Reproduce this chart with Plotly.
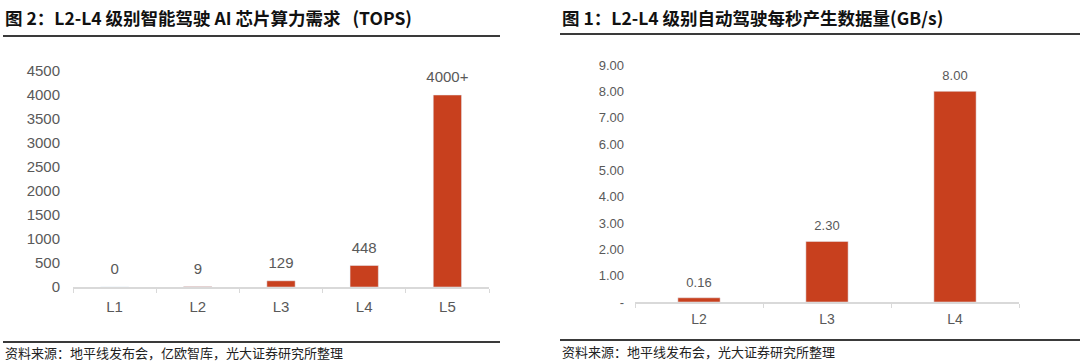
import plotly.graph_objects as go

# Left chart data
left_categories = ["L1", "L2", "L3", "L4", "L5"]
left_values = [0, 9, 129, 448, 4000]
left_labels = ["0", "9", "129", "448", "4000+"]
left_tickvals = [0, 500, 1000, 1500, 2000, 2500, 3000, 3500, 4000, 4500]
left_ticktext = ["0", "500", "1000", "1500", "2000", "2500", "3000", "3500", "4000", "4500"]

# Right chart data
right_categories = ["L2", "L3", "L4"]
right_values = [0.16, 2.30, 8.00]
right_labels = ["0.16", "2.30", "8.00"]
right_tickvals = [0, 1, 2, 3, 4, 5, 6, 7, 8, 9]
right_ticktext = ["-", "1.00", "2.00", "3.00", "4.00", "5.00", "6.00", "7.00", "8.00", "9.00"]

left_title = "图 2：L2-L4 级别智能驾驶 AI 芯片算力需求&nbsp;&nbsp;&nbsp;(TOPS)"
right_title = "图 1：L2-L4 级别自动驾驶每秒产生数据量(GB/s)"
left_source = "资料来源：地平线发布会，亿欧智库，光大证券研究所整理"
right_source = "资料来源：地平线发布会，光大证券研究所整理"

W, H = 1080, 363
BAR = "#C8401E"
GRAY = "#595959"
NUM_FONT = "Liberation Sans, Arial, sans-serif"
CJK_FONT = "Noto Sans CJK SC, sans-serif"

def px_x(x):
    return x / W

def px_y(y):
    return (H - y) / H

fig = go.Figure()
fig.add_trace(go.Bar(
    x=left_categories, y=left_values,
    marker=dict(color=BAR), xaxis="x", yaxis="y", width=0.34, hoverinfo="skip"))
fig.add_trace(go.Scatter(
    x=left_categories, y=left_values, text=left_labels, mode="markers+text",
    marker=dict(size=13, opacity=0), textposition="top center", cliponaxis=False,
    textfont=dict(family=NUM_FONT, size=15, color=GRAY),
    xaxis="x", yaxis="y", hoverinfo="skip"))
fig.add_trace(go.Bar(
    x=right_categories, y=right_values,
    marker=dict(color=BAR), xaxis="x2", yaxis="y2", width=0.33, hoverinfo="skip"))
fig.add_trace(go.Scatter(
    x=right_categories, y=right_values, text=right_labels, mode="markers+text",
    marker=dict(size=11, opacity=0), textposition="top center", cliponaxis=False,
    textfont=dict(family=NUM_FONT, size=13, color=GRAY),
    xaxis="x2", yaxis="y2", hoverinfo="skip"))

fig.update_layout(
    width=W, height=H, margin=dict(l=0, r=0, t=0, b=0, autoexpand=False),
    paper_bgcolor="white", plot_bgcolor="white", showlegend=False,
    xaxis=dict(domain=[px_x(73), px_x(489)], anchor="y", showgrid=False, automargin=False,
               showline=True, linecolor="#D9D9D9", linewidth=1.5,
               ticks="outside", tickson="boundaries", ticklen=4, tickcolor="#D9D9D9",
               ticklabelstandoff=5,
               tickfont=dict(family=NUM_FONT, size=15, color=GRAY)),
    yaxis=dict(domain=[px_y(287), px_y(71)], range=[0, 4500], anchor="x", automargin=False,
               showgrid=False, showline=False, zeroline=False,
               tickvals=left_tickvals, ticktext=left_ticktext, ticks="",
               ticklabelstandoff=12,
               tickfont=dict(family=NUM_FONT, size=15, color=GRAY)),
    xaxis2=dict(domain=[px_x(635), px_x(1019)], anchor="y2", showgrid=False, automargin=False,
                showline=True, linecolor="#D9D9D9", linewidth=1.5,
                ticks="outside", tickson="boundaries", ticklen=4, tickcolor="#D9D9D9",
                ticklabelstandoff=4,
                tickfont=dict(family=NUM_FONT, size=14, color=GRAY)),
    yaxis2=dict(domain=[px_y(302), px_y(65)], range=[0, 9], anchor="x2", automargin=False,
                showgrid=False, showline=False, zeroline=False,
                tickvals=right_tickvals, ticktext=right_ticktext, ticks="",
                ticklabelstandoff=10,
                tickfont=dict(family=NUM_FONT, size=13, color=GRAY)),
)

# Titles
fig.add_annotation(x=px_x(3), y=px_y(18), xref="paper", yref="paper",
                   text="<b>" + left_title + "</b>", showarrow=False,
                   xanchor="left", yanchor="middle",
                   font=dict(family=CJK_FONT, size=17.5, color="#111111"))
fig.add_annotation(x=px_x(560), y=px_y(17), xref="paper", yref="paper",
                   text="<b>" + right_title + "</b>", showarrow=False,
                   xanchor="left", yanchor="middle",
                   font=dict(family=CJK_FONT, size=17.5, color="#111111"))
# Sources
fig.add_annotation(x=px_x(3), y=px_y(352), xref="paper", yref="paper",
                   text=left_source, showarrow=False, xanchor="left", yanchor="middle",
                   font=dict(family=CJK_FONT, size=13, color="#222222"))
fig.add_annotation(x=px_x(560), y=px_y(351), xref="paper", yref="paper",
                   text=right_source, showarrow=False, xanchor="left", yanchor="middle",
                   font=dict(family=CJK_FONT, size=13, color="#222222"))

# Rule lines
for x0, x1, y in [(3, 500, 36), (560, 1080, 34), (3, 500, 342), (560, 1080, 340)]:
    fig.add_shape(type="line", xref="paper", yref="paper",
                  x0=px_x(x0), x1=px_x(x1), y0=px_y(y), y1=px_y(y),
                  line=dict(color="#3A3A3A", width=2))

fig.write_html(
    "out.html",
    config={"displayModeBar": False, "staticPlot": True},
    post_script="document.body.style.margin='0';document.body.style.padding='0';"
                "document.body.style.overflow='hidden';",
)
